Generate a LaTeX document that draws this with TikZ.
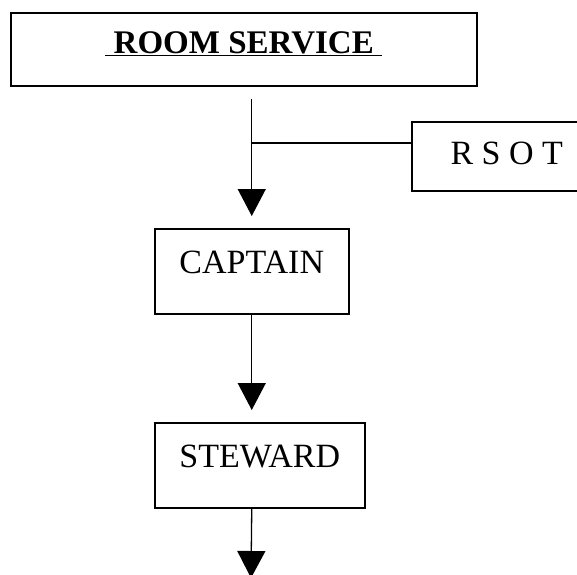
\documentclass[tikz,border=0pt]{standalone}
\usepackage{fontspec}
\setmainfont{Liberation Serif}
\usetikzlibrary{arrows.meta}

\begin{document}
\begin{tikzpicture}[x=1pt,y=-1pt]
  \tikzstyle{box}  =[draw, line width=1.5pt, anchor=north west, inner sep=0pt, text depth=40pt, text height=45pt]
  \tikzstyle{flow} =[line width=1.3pt, -{Triangle[length=27pt,width=28pt]}]
  \clip (0,0) rectangle (577,574);
  \node[box, minimum width=466pt, text height=41pt, text depth=32pt,
        font=\fontsize{33}{38}\selectfont\bfseries](room) at (10,12) {\underline{\ ROOM SERVICE\ }};
  \node[box, minimum width=190pt, text height=43pt, text depth=26pt,
        font=\fontsize{34}{40}\selectfont](rsot) at (411,121) {R S O T};
  \node[box, minimum width=194pt, font=\fontsize{34}{40}\selectfont](captain) at (154,228) {CAPTAIN};
  \node[box, minimum width=210pt, font=\fontsize{34}{40}\selectfont](steward) at (154,422) {STEWARD};
  \coordinate (j) at (251,143);
  \coordinate (out) at (251,578);
  \draw[flow, shorten <=12pt, shorten >=12pt] (captain.north |- room.south) -- (captain.north);
  \draw[line width=1.3pt] (j) -- (j -| rsot.west);
  \draw[flow, shorten >=12pt] (captain.south) -- (captain.south |- steward.north);
  \draw[flow] (captain.south |- steward.south) -- (out);
\end{tikzpicture}
\end{document}
